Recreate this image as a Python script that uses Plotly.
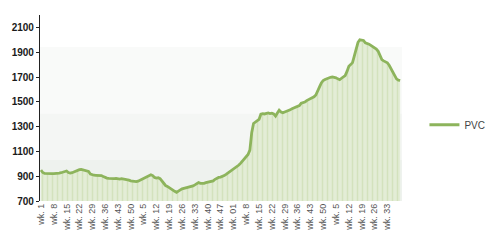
import plotly.graph_objects as go

pvc = [950, 930, 922, 920, 918, 918, 920, 920, 920, 922, 925, 928,
       932, 938, 942, 930, 925, 928, 935, 942, 948, 953, 955, 952,
       950, 945, 938, 918, 910, 908, 907, 908, 910, 905, 898, 890,
       885, 882, 880, 878, 880, 882, 878, 876, 880, 878, 872, 870,
       868, 862, 858, 855, 856, 860, 868, 878, 885, 892, 898, 905,
       912, 905, 890, 885, 888, 880, 860, 835, 825, 818, 810, 800,
       788, 778, 770, 780, 792, 798, 802, 805, 810, 812, 818, 822,
       830, 840, 848, 842, 840, 842, 848, 852, 855, 858, 862, 875,
       885, 890, 893, 897, 905, 915, 925, 937, 950, 962, 970, 978,
       990, 1005, 1025, 1045, 1060, 1075, 1110, 1250, 1325, 1338, 1345, 1358,
       1400, 1405, 1402, 1408, 1410, 1405, 1408, 1403, 1385, 1410, 1432, 1418,
       1412, 1418, 1423, 1428, 1435, 1445, 1450, 1455, 1463, 1470, 1488, 1492,
       1498, 1510, 1518, 1522, 1530, 1540, 1555, 1582, 1620, 1652, 1672, 1680,
       1688, 1692, 1698, 1700, 1698, 1693, 1685, 1678, 1690, 1702, 1712, 1745,
       1787, 1800, 1816, 1870, 1930, 1980, 2000, 2000, 1995, 1976, 1972, 1965,
       1955, 1945, 1938, 1925, 1908, 1870, 1840, 1830, 1822, 1815, 1795, 1770,
       1740, 1710, 1685, 1675, 1672]

tick_labels = ["wk. 1", "wk. 8", "wk. 15", "wk. 22", "wk. 29", "wk. 36", "wk. 43",
               "wk. 50", "wk. 5", "wk. 12", "wk. 19", "wk. 26", "wk. 33", "wk. 40",
               "wk. 47", "wk. 01", "wk. 8", "wk. 15", "wk. 22", "wk. 29", "wk. 36",
               "wk. 43", "wk. 50", "wk. 5", "wk. 12", "wk. 19", "wk. 26", "wk. 33"]
y_ticks = [700, 900, 1100, 1300, 1500, 1700, 1900, 2100]

x = list(range(len(pvc)))
tick_pos = [i * 7 for i in range(len(tick_labels))]

fig = go.Figure()
fig.add_trace(go.Scatter(
    x=x, y=pvc, mode="lines", showlegend=False, hoverinfo="skip",
    line=dict(width=0),
    fill="tozeroy",
    fillcolor="#dde9cd",
    fillpattern=dict(shape="|", fgcolor="#c3d8a4", bgcolor="#e3edd6", size=5, solidity=0.3),
))
fig.add_trace(go.Scatter(
    x=x, y=pvc, mode="lines", name="PVC",
    line=dict(color="#8db45c", width=2.8),
))

# subtle gradient background bands
bands = [(0.828, 0.47, "#f9faf9"), (0.47, 0.22, "#f4f6f4"), (0.22, 0.0, "#eef2ee")]
for top, bot, col in bands:
    fig.add_shape(type="rect", xref="x domain", yref="y domain", x0=0, x1=1, y0=bot, y1=top,
                  fillcolor=col, line=dict(width=0), layer="below")

fig.update_layout(
    width=504, height=243,
    margin=dict(l=33, r=102, t=15, b=42),
    paper_bgcolor="white", plot_bgcolor="white",
    font=dict(family="Liberation Sans, Arial, sans-serif", color="#333"),
    showlegend=True,
    legend=dict(x=1.062, y=0.41, xanchor="left", yanchor="middle",
                font=dict(size=10, color="#444"), itemwidth=30,
                bgcolor="rgba(0,0,0,0)"),
    xaxis=dict(range=[-0.5, 197], tickmode="array", tickvals=tick_pos, ticktext=tick_labels,
               tickangle=-90, tickfont=dict(size=9, color="#555"), showgrid=False,
               showline=False, zeroline=False, ticks=""),
    yaxis=dict(range=[700, 2200], tickmode="array", tickvals=y_ticks,
               tickfont=dict(size=10, color="#1a1a1a", weight="bold"), showgrid=False,
               showline=True, linecolor="#222", linewidth=1.2, ticks="outside",
               ticklen=3, tickcolor="#222", zeroline=False),
)

fig.write_html("out.html")
